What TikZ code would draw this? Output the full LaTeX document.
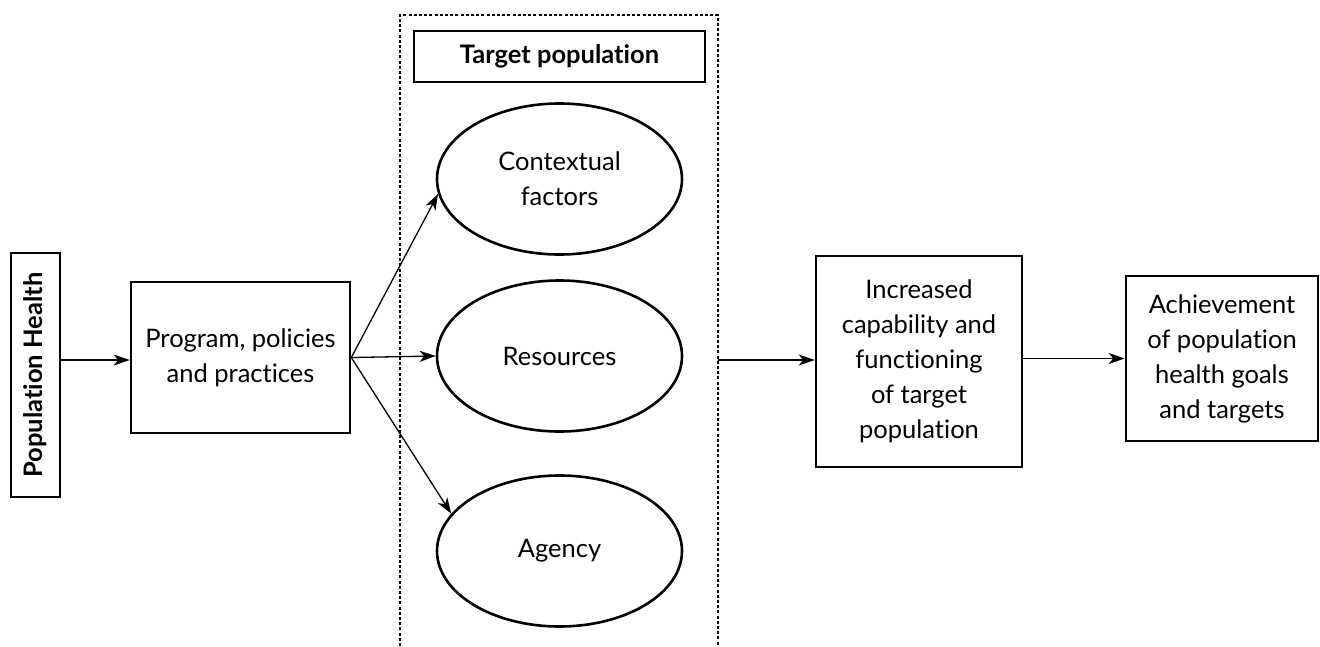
\documentclass[tikz,border=0pt]{standalone}
\usepackage{fontspec}
\setmainfont{Lato}[Ligatures=NoCommon]
\usetikzlibrary{shapes.geometric,arrows.meta}
\tikzset{
  box/.style={draw, line width=2.6pt, align=center, inner sep=0pt, font=\fontsize{25.5}{35}\selectfont},
  oval/.style={draw, ellipse, line width=2.6pt, align=center, inner sep=0pt, minimum width=245, minimum height=151, font=\fontsize{25.5}{35}\selectfont},
  arr/.style={line width=1.3pt, -{Stealth[length=16pt,width=11pt,inset=4.5pt]}},
  frame/.style={line width=1.3pt, dash pattern=on 3pt off 2.2pt}
}
\begin{document}
\begin{tikzpicture}[x=1pt,y=-1pt]
\useasboundingbox (0,0) rectangle (1320,646);
\node[box, minimum width=49, minimum height=244, font=\fontsize{25.5}{30}\selectfont\bfseries] (ph) at (35.5,375) {\rotatebox{90}{Population Health}};
\node[box, minimum width=219, minimum height=151] (prog) at (240.5,357.5) {Program, policies\\and practices};
\draw[frame] (400,646) -- (400,15) -- (718,15) -- (718,646);
\coordinate (dr) at (718,360);
\node[box, minimum width=291, minimum height=51, font=\fontsize{25.5}{30}\selectfont\bfseries] (tp) at (559.5,56.5) {Target population};
\node[oval] (ctx) at (559.5,179) {Contextual\\factors};
\node[oval] (res) at (559.5,356) {Resources};
\node[oval] (agc) at (559.5,551) {Agency};
\node[box, minimum width=206, minimum height=211] (inc) at (919,361.5) {Increased\\capability and\\functioning\\of target\\population};
\node[box, minimum width=192, minimum height=165] (ach) at (1222,358.5) {Achievement\\of population\\health goals\\and targets};
\draw[arr] (ph.east |- 0,360) -- (prog.west |- 0,360);
\draw[arr] (prog.east) -- (ctx.187);
\draw[arr] (prog.east) -- (res.west);
\draw[arr] (prog.east) -- (agc.161);
\draw[arr] (dr) -- (inc.west |- dr);
\draw[arr] (inc.east |- ach.west) -- (ach.west);
\end{tikzpicture}
\end{document}
